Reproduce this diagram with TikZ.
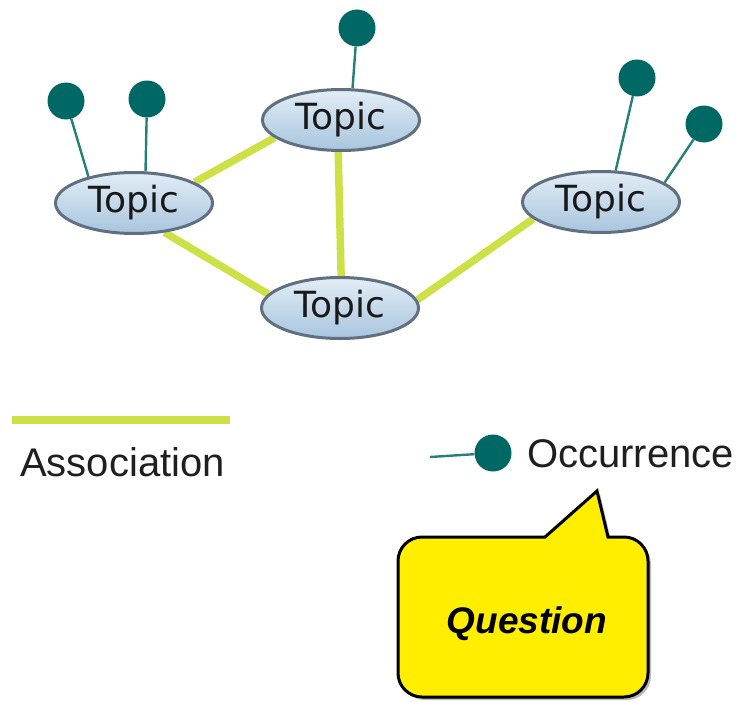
\documentclass[tikz,border=0pt]{standalone}
\usepackage{fontspec}
\setmainfont{Liberation Sans}
\newfontfamily\topicfont{DejaVu Sans}
\usetikzlibrary{shapes.geometric,backgrounds,shadows}

\definecolor{assoc}{RGB}{205,224,70}
\definecolor{occ}{RGB}{0,104,100}
\definecolor{topicedge}{RGB}{96,112,128}
\definecolor{topictop}{RGB}{226,237,246}
\definecolor{topicbottom}{RGB}{168,197,222}
\definecolor{callout}{RGB}{255,238,0}

\tikzset{
  topic/.style={ellipse, draw=topicedge, line width=3pt,
    top color=topictop, bottom color=topicbottom,
    minimum width=157pt, minimum height=61pt, inner sep=0pt,
    font=\topicfont\fontsize{36}{40}\selectfont, text=black!90},
  occurrence/.style={circle, fill=occ, minimum size=37pt, inner sep=0pt},
  occlink/.style={draw=occ!85, line width=2.4pt},
  association/.style={draw=assoc, line width=7.5pt},
  legendtext/.style={font=\fontsize{40}{44}\selectfont, text=black!88, inner sep=0pt},
}

\begin{document}
\begin{tikzpicture}[x=1pt, y=-1pt]
  \useasboundingbox (0,0) rectangle (738,701);

  % topics
  \node[topic] (tl) at (134,203) {Topic};
  \node[topic] (tt) at (341,120) {Topic};
  \node[topic] (tr) at (601,202) {Topic};
  \node[topic] (tb) at (340,308) {Topic};

  % occurrences
  \node[occurrence] (o1) at (66,101) {};
  \node[occurrence] (o2) at (147,99) {};
  \node[occurrence] (o3) at (357,28) {};
  \node[occurrence] (o4) at (637,78) {};
  \node[occurrence] (o5) at (704,124) {};

  \begin{pgfonlayer}{background}
    % associations between topics
    \draw[association] (tl.19) -- (tt.195);
    \draw[association] (tl.316) -- (tb.169);
    \draw[association] (tt.265) -- (tb.88);
    \draw[association] (tb.6) -- (tr.194);
    % occurrence links
    \draw[occlink] (o1) -- (tl.150);
    \draw[occlink] (o2) -- (tl.70);
    \draw[occlink] (o3) -- (tt.70);
    \draw[occlink] (o4) -- (tr.65);
    \draw[occlink] (o5) -- (tr.17);
  \end{pgfonlayer}

  % legend
  \coordinate (la) at (12,420);
  \coordinate (lb) at (230,420);
  \draw[association] (la) -- (lb);
  \node[legendtext, anchor=base west] (assoclabel) at (20,476) {Association};

  \node[occurrence] (lo) at (493,453) {};
  \coordinate (lstart) at (430,457);
  \draw[occlink] (lstart) -- (lo);
  \node[legendtext, anchor=base west] (occlabel) at (527,467) {Occurrence};

  % speech bubble
  \path[draw=black, line width=3pt, fill=callout,
        drop shadow={shadow xshift=3pt, shadow yshift=-3pt, opacity=0.45, fill=black!60}]
    (545,537) -- (597,491) -- (608,537)
    [rounded corners=24pt] -- (648,537) -- (648,697) -- (398,697) -- (398,537)
    [sharp corners] -- cycle;
  \node[font=\bfseries\itshape\fontsize{37}{42}\selectfont, anchor=base] (question) at (527,633) {Question};
\end{tikzpicture}
\end{document}
